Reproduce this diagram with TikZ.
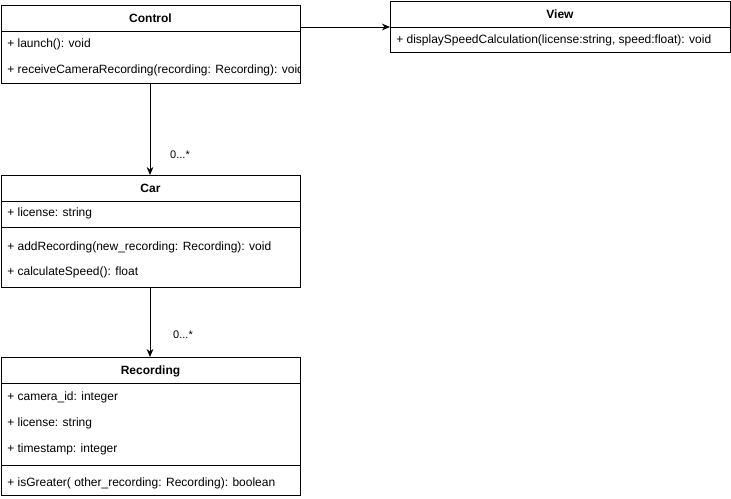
\documentclass[tikz,border=0pt]{standalone}
\usepackage{fontspec}
\setmainfont{Liberation Sans}
\usetikzlibrary{positioning, arrows.meta}

\begin{document}
\begin{tikzpicture}[
  x=0.75pt, y=-0.75pt,
  classbox/.style={draw=black, fill=white, line width=0.6pt, anchor=north west,
                   minimum width=224.25pt, inner sep=0pt},
  classname/.style={font=\bfseries\fontsize{9}{10}\selectfont, inner sep=0pt},
  member/.style={font=\fontsize{9}{10}\selectfont, anchor=west, inner sep=0pt},
  divider/.style={line width=0.6pt},
  assoc/.style={line width=0.6pt, -{Stealth[length=6pt, width=5pt]}},
  mult/.style={font=\fontsize{8.25}{9}\selectfont, inner sep=0pt},
  every node/.style={text=black}
]
  \useasboundingbox (0,0) rectangle (731,499);

  % Control
  \node[classbox, minimum height=58.5pt] (control) at (1,5) {};
  \node[classname] (control-title) at (150.5,18) {Control};
  \draw[divider] (control.west |- 0,31) -- (control.east |- 0,31);
  \node[member] (control-launch) at (7,44) {+ launch(): void};
  \begin{scope}
    \clip (control.south west) rectangle (control.north east);
    \node[member] (control-receive) at (7,70) {+ receiveCameraRecording(recording: Recording): void};
  \end{scope}

  % View
  \node[classbox, minimum width=255pt, minimum height=38.25pt] (view) at (390,1) {};
  \node[classname] (view-title) at (560,14) {View};
  \draw[divider] (view.west |- 0,27) -- (view.east |- 0,27);
  \node[member] (view-display) at (396,40) {+ displaySpeedCalculation(license:string, speed:float): void};

  % Car
  \node[classbox, minimum height=84pt] (car) at (1,175) {};
  \node[classname] (car-title) at (150.5,188) {Car};
  \draw[divider] (car.west |- 0,201) -- (car.east |- 0,201);
  \node[member] (car-license) at (7,213) {+ license: string};
  \draw[divider] (car.west |- 0,227) -- (car.east |- 0,227);
  \node[member] (car-add) at (7,247) {+ addRecording(new\_recording: Recording): void};
  \node[member] (car-speed) at (7,272) {+ calculateSpeed(): float};

  % Recording
  \node[classbox, minimum height=103.5pt] (recording) at (1,357) {};
  \node[classname] (recording-title) at (150.5,371) {Recording};
  \draw[divider] (recording.west |- 0,383) -- (recording.east |- 0,383);
  \node[member] (recording-camera) at (7,397) {+ camera\_id: integer};
  \node[member] (recording-license) at (7,423) {+ license: string};
  \node[member] (recording-time) at (7,449) {+ timestamp: integer};
  \draw[divider] (recording.west |- 0,465) -- (recording.east |- 0,465);
  \node[member] (recording-greater) at (7,483) {+ isGreater( other\_recording: Recording): boolean};

  % associations
  \draw[assoc] (control.east |- 0,27) -- (view.west |- 0,27);
  \draw[assoc] (control.south -| 150,0) -- (car.north -| 150,0);
  \node[mult] (car-mult) at (180,155) {0...*};
  \draw[assoc] (car.south -| 150,0) -- (recording.north -| 150,0);
  \node[mult] (recording-mult) at (183,335) {0...*};
\end{tikzpicture}
\end{document}
